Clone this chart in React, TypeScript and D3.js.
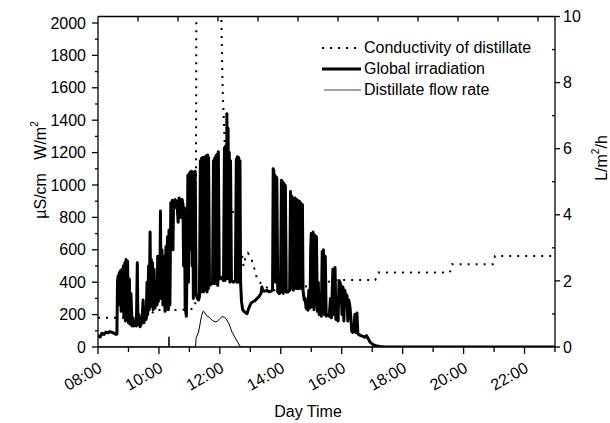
import React from "react";
import * as d3 from "d3";

// ---- data (hours of day, values) ----
const irradiation: [number, number][] = [
  [8.0, 70], [8.07, 62], [8.13, 85], [8.2, 78], [8.26, 92], [8.33, 88], [8.39, 95], [8.46, 90], [8.53, 85], [8.59, 78], [8.62, 80],
  [8.64, 400], [8.66, 440], [8.68, 260], [8.7, 460], [8.72, 300], [8.74, 470], [8.76, 220], [8.79, 480], [8.81, 250], [8.83, 500],
  [8.85, 180], [8.88, 520], [8.9, 160], [8.92, 540], [8.95, 200], [8.97, 530], [9.0, 150], [9.03, 420], [9.05, 140], [9.08, 330],
  [9.12, 130], [9.15, 180], [9.18, 130], [9.21, 150], [9.26, 130], [9.29, 520], [9.31, 140], [9.34, 200], [9.38, 125], [9.44, 150],
  [9.48, 290], [9.51, 150], [9.54, 230], [9.58, 170], [9.61, 400], [9.63, 200], [9.66, 500], [9.68, 230], [9.71, 710], [9.73, 280],
  [9.75, 540], [9.77, 250], [9.79, 520], [9.81, 230], [9.84, 480], [9.87, 240], [9.9, 400], [9.94, 260], [9.96, 560], [9.98, 280],
  [10.01, 520], [10.03, 300], [10.05, 840], [10.07, 300], [10.1, 600], [10.13, 260], [10.17, 560], [10.2, 220], [10.23, 620],
  [10.25, 240], [10.28, 680], [10.31, 230], [10.33, 720], [10.36, 260], [10.39, 890], [10.41, 880], [10.44, 905], [10.46, 600],
  [10.48, 900], [10.53, 910], [10.56, 860], [10.59, 900], [10.63, 770], [10.66, 920], [10.69, 900], [10.72, 800], [10.76, 910],
  [10.79, 880], [10.81, 500], [10.84, 860], [10.86, 250], [10.9, 190], [10.93, 600], [10.95, 1060], [10.97, 400], [10.99, 1070],
  [11.01, 600], [11.03, 1080], [11.05, 700], [11.07, 1085], [11.09, 500], [11.11, 1080], [11.13, 300], [11.15, 1080], [11.17, 400],
  [11.19, 1085], [11.22, 330], [11.26, 300], [11.3, 290], [11.33, 310],
  [11.36, 1150], [11.38, 340], [11.4, 1165], [11.42, 360], [11.44, 1170], [11.46, 340], [11.48, 1170], [11.5, 370], [11.52, 1175],
  [11.54, 350], [11.56, 1180], [11.58, 340], [11.6, 1185], [11.62, 360], [11.63, 1170], [11.66, 380], [11.72, 390], [11.76, 400],
  [11.79, 1150], [11.81, 390], [11.83, 1165], [11.85, 400], [11.87, 1180], [11.89, 390], [11.91, 1190], [11.93, 380], [11.95, 1205],
  [11.98, 420], [12.05, 430], [12.12, 410],
  [12.15, 1230], [12.17, 410], [12.19, 1240], [12.21, 420], [12.23, 1440], [12.25, 600], [12.27, 1350], [12.29, 420], [12.31, 1200],
  [12.33, 400], [12.35, 1150], [12.38, 410], [12.45, 400], [12.51, 410],
  [12.54, 1160], [12.56, 400], [12.58, 1175], [12.6, 400], [12.62, 1170], [12.64, 410], [12.66, 1150], [12.68, 400],
  [12.71, 280], [12.75, 230], [12.82, 215], [12.89, 205], [12.95, 240], [13.02, 270], [13.09, 280], [13.15, 285],
  [13.22, 300], [13.28, 310], [13.35, 330], [13.38, 370], [13.41, 345], [13.48, 345], [13.54, 350], [13.61, 340], [13.68, 345],
  [13.73, 350], [13.75, 1100], [13.77, 1090], [13.79, 500], [13.81, 1060], [13.83, 400], [13.85, 1050], [13.87, 1040],
  [13.9, 340], [13.95, 330], [13.99, 340],
  [14.02, 1030], [14.04, 340], [14.06, 1020], [14.08, 330], [14.1, 1010], [14.12, 340], [14.14, 1000], [14.15, 990],
  [14.18, 340], [14.24, 340], [14.29, 350],
  [14.32, 960], [14.34, 360], [14.36, 930], [14.38, 920], [14.41, 350], [14.43, 915], [14.45, 360], [14.47, 920], [14.5, 370],
  [14.52, 910], [14.54, 360], [14.56, 905], [14.59, 360], [14.61, 900], [14.63, 370], [14.65, 890], [14.68, 360], [14.71, 880],
  [14.73, 350], [14.77, 290], [14.8, 300], [14.83, 240], [14.89, 228], [14.92, 350], [14.96, 240], [14.98, 600], [15.0, 700],
  [15.02, 250], [15.06, 710], [15.09, 230], [15.12, 690], [15.15, 260], [15.17, 680], [15.2, 220], [15.23, 400], [15.26, 200],
  [15.3, 300], [15.33, 190], [15.36, 590], [15.38, 230], [15.4, 600], [15.43, 200], [15.46, 560], [15.49, 190], [15.54, 200],
  [15.59, 190], [15.63, 300], [15.66, 180], [15.71, 480], [15.74, 200], [15.78, 490], [15.81, 170], [15.84, 300], [15.88, 160],
  [15.91, 410], [15.94, 400], [15.97, 380], [16.01, 200], [16.04, 370], [16.07, 160], [16.1, 350], [16.14, 300], [16.17, 320],
  [16.2, 160], [16.23, 290], [16.27, 250], [16.3, 180], [16.33, 95], [16.36, 90], [16.4, 100], [16.43, 200], [16.46, 90],
  [16.5, 210], [16.53, 80], [16.58, 75], [16.63, 70], [16.7, 65], [16.76, 60], [16.81, 70], [16.86, 55], [16.93, 30],
  [17.03, 15], [17.12, 8], [17.25, 3], [17.42, 0], [23.0, 0],
];

const conductivity: [number, number][] = [
  [8.0, 180], [8.7, 180], [9.7, 187], [9.85, 228], [10.6, 228], [11.1, 235], [11.18, 245], [11.21, 300], [11.23, 2300],
  [12.03, 2300], [12.06, 1900], [12.09, 1600], [12.12, 1450], [12.15, 1300], [12.18, 1150], [12.21, 1000], [12.25, 920],
  [12.5, 800], [12.62, 700], [12.66, 600], [12.68, 450], [12.72, 580], [12.78, 500], [12.85, 560], [12.92, 580], [13.0, 560],
  [13.08, 520], [13.15, 470], [13.22, 420], [13.3, 400], [13.5, 370], [13.8, 350], [14.2, 360], [14.4, 372], [14.75, 372],
  [15.0, 380], [15.3, 385], [15.55, 395], [15.62, 413], [17.1, 413], [17.2, 460], [19.55, 460], [19.62, 511], [20.96, 511],
  [21.03, 562], [23.0, 562],
];

const flowRate: [number, number][] = [
  [8.0, 0], [10.32, 0], [10.33, 0.31], [10.34, 0], [11.2, 0], [11.22, 0.27], [11.3, 0.45], [11.4, 0.95], [11.45, 1.08],
  [11.5, 1.05], [11.55, 0.96], [11.65, 0.9], [11.75, 0.8], [11.85, 0.76], [11.92, 0.78], [12.0, 0.86], [12.08, 0.92],
  [12.15, 0.9], [12.2, 0.86], [12.3, 0.7], [12.4, 0.45], [12.5, 0.28], [12.6, 0.12], [12.68, 0], [23.0, 0],
];

const xMajor = [8, 10, 12, 14, 16, 18, 20, 22];
const xMinor = [9, 11, 13, 15, 17, 19, 21, 23];
const yLeftMajor = [0, 200, 400, 600, 800, 1000, 1200, 1400, 1600, 1800, 2000];
const yLeftMinor = [100, 300, 500, 700, 900, 1100, 1300, 1500, 1700, 1900];
const yRightMajor = [0, 2, 4, 6, 8, 10];
const yRightMinor = [1, 3, 5, 7, 9];
const topTicks = [1, 2, 3, 4, 5, 6, 7, 8, 9, 10, 11];

const legendItems = ["Conductivity of distillate", "Global irradiation", "Distillate flow rate"];

const FONT = "'Liberation Sans', Arial, Helvetica, sans-serif";

export default function App() {
  const L = 98, R = 555, T = 16.5, B = 347;
  const x = d3.scaleLinear().domain([8, 23]).range([L, R]);
  const yL = d3.scaleLinear().domain([0, 2040]).range([B, T]);
  const yR = d3.scaleLinear().domain([0, 10]).range([B, T]);
  const xTop = d3.scaleLinear().domain([0, 11.425]).range([L, R]);

  const lineL = d3.line<[number, number]>().x((d) => x(d[0])).y((d) => yL(d[1]));
  const lineR = d3.line<[number, number]>().x((d) => x(d[0])).y((d) => yR(d[1]));
  const fmt = (h: number) => d3.format("02d")(h) + ":00";

  const legY = [48, 69, 90];

  return (
    <svg width={610} height={423} style={{ position: "absolute", left: 0, top: 0, background: "#fff" }}
      fontFamily={FONT} fontSize={16}>
      <defs>
        <clipPath id="plot">
          <rect x={L} y={T} width={R - L} height={B - T} />
        </clipPath>
      </defs>
      <rect x={0} y={0} width={610} height={423} fill="#fff" />

      <g clipPath="url(#plot)">
        <path d={lineL(conductivity) || ""} fill="none" stroke="#000" strokeWidth={2} strokeDasharray="2,6" />
        <path d={lineL(irradiation) || ""} fill="none" stroke="#000" strokeWidth={3} strokeLinejoin="round" />
        <path d={lineR(flowRate) || ""} fill="none" stroke="#000" strokeWidth={1} />
      </g>

      {/* frame */}
      <g stroke="#000" strokeWidth={1.3} fill="none">
        <line x1={L} y1={B} x2={R} y2={B} />
        <line x1={L} y1={T} x2={R} y2={T} />
        <line x1={L} y1={T} x2={L} y2={B} />
        <line x1={R} y1={T} x2={R} y2={B} />
      </g>

      {/* ticks */}
      <g stroke="#000" strokeWidth={1.3}>
        {xMajor.map((h) => <line key={"xm" + h} x1={x(h)} x2={x(h)} y1={B} y2={B + 7} />)}
        {xMinor.map((h) => <line key={"xn" + h} x1={x(h)} x2={x(h)} y1={B} y2={B + 5} />)}
        {topTicks.map((t) => <line key={"tt" + t} x1={xTop(t)} x2={xTop(t)} y1={T} y2={T + 5} />)}
        {yLeftMajor.map((v) => <line key={"lm" + v} x1={L - 6} x2={L} y1={yL(v)} y2={yL(v)} />)}
        {yLeftMinor.map((v) => <line key={"ln" + v} x1={L - 3} x2={L} y1={yL(v)} y2={yL(v)} />)}
        {yRightMajor.map((v) => <line key={"rm" + v} x1={R} x2={R + 5} y1={yR(v)} y2={yR(v)} />)}
        {yRightMinor.map((v) => <line key={"rn" + v} x1={R - 3} x2={R} y1={yR(v)} y2={yR(v)} />)}
      </g>

      {xMajor.map((h) => (
        <text key={"xl" + h} textAnchor="end" transform={`translate(${x(h) + 5},${371}) rotate(-30)`}>{fmt(h)}</text>
      ))}
      {yLeftMajor.map((v) => (
        <text key={"yl" + v} x={L - 12} y={yL(v)} dy="0.35em" textAnchor="end">{v}</text>
      ))}
      {yRightMajor.map((v) => (
        <text key={"yr" + v} x={R + 8} y={yR(v)} dy="0.35em" textAnchor="start">{v}</text>
      ))}

      <text x={308} y={417} textAnchor="middle">Day Time</text>
      <text transform="translate(46,170) rotate(-90)" textAnchor="middle" style={{ whiteSpace: "pre" }}>
        {"µS/cm   W/m"}<tspan fontSize={10} dy={-8}>2</tspan>
      </text>
      <text transform="translate(607,158) rotate(-90)" textAnchor="middle">
        {"L/m"}<tspan fontSize={10} dy={-8}>2</tspan><tspan dy={8}>/h</tspan>
      </text>

      {/* legend */}
      <line x1={322} x2={362} y1={legY[0]} y2={legY[0]} stroke="#000" strokeWidth={2} strokeDasharray="2,6" />
      <line x1={322} x2={361} y1={legY[1]} y2={legY[1]} stroke="#000" strokeWidth={3} />
      <line x1={324} x2={361} y1={legY[2]} y2={legY[2]} stroke="#444" strokeWidth={1.2} />
      {legendItems.map((s, i) => (
        <text key={s} x={364} y={legY[i] + 5}>{s}</text>
      ))}
    </svg>
  );
}
